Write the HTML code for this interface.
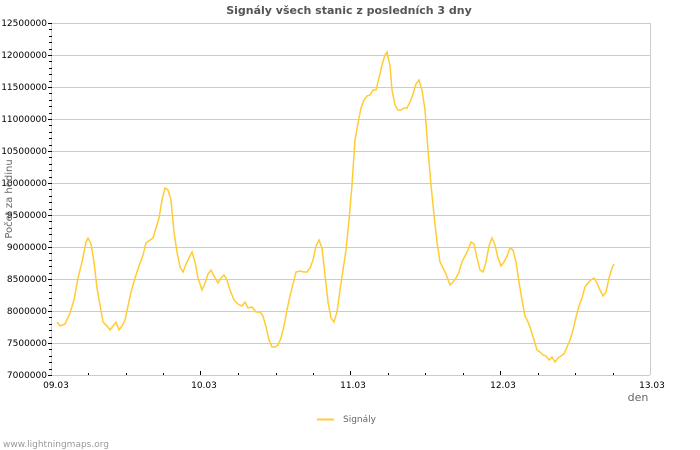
<!DOCTYPE html>
<html><head><meta charset="utf-8"><style>
body{margin:0;background:#fff;}
svg{display:block;font-family:"DejaVu Sans","Liberation Sans",sans-serif;}
</style></head><body>
<svg width="700" height="450" viewBox="0 0 700 450" xmlns="http://www.w3.org/2000/svg">
<rect width="700" height="450" fill="#fff"/>
<text x="349" y="14" text-anchor="middle" font-size="11" font-weight="bold" fill="#555">Signály všech stanic z posledních 3 dny</text>
<g stroke="#ccc" stroke-width="1">
<line x1="51" y1="23.5" x2="650" y2="23.5"/>
<line x1="51" y1="55.5" x2="650" y2="55.5"/>
<line x1="51" y1="87.5" x2="650" y2="87.5"/>
<line x1="51" y1="119.5" x2="650" y2="119.5"/>
<line x1="51" y1="151.5" x2="650" y2="151.5"/>
<line x1="51" y1="183.5" x2="650" y2="183.5"/>
<line x1="51" y1="215.5" x2="650" y2="215.5"/>
<line x1="51" y1="247.5" x2="650" y2="247.5"/>
<line x1="51" y1="279.5" x2="650" y2="279.5"/>
<line x1="51" y1="311.5" x2="650" y2="311.5"/>
<line x1="51" y1="343.5" x2="650" y2="343.5"/>
<line x1="51" y1="375.5" x2="650" y2="375.5"/>
<line x1="650.5" y1="23" x2="650.5" y2="375"/>
<line x1="51.5" y1="23" x2="51.5" y2="375"/>
</g>
<path stroke="#000" stroke-width="1" fill="none" d="
M48 23.5h4M49 29.5h3M49 36.5h3M49 42.5h3M49 49.5h3
M48 55.5h4M49 61.5h3M49 68.5h3M49 74.5h3M49 81.5h3
M48 87.5h4M49 93.5h3M49 100.5h3M49 106.5h3M49 113.5h3
M48 119.5h4M49 125.5h3M49 132.5h3M49 138.5h3M49 145.5h3
M48 151.5h4M49 157.5h3M49 164.5h3M49 170.5h3M49 177.5h3
M48 183.5h4M49 189.5h3M49 196.5h3M49 202.5h3M49 209.5h3
M48 215.5h4M49 221.5h3M49 228.5h3M49 234.5h3M49 241.5h3
M48 247.5h4M49 253.5h3M49 260.5h3M49 266.5h3M49 273.5h3
M48 279.5h4M49 285.5h3M49 292.5h3M49 298.5h3M49 305.5h3
M48 311.5h4M49 317.5h3M49 324.5h3M49 330.5h3M49 337.5h3
M48 343.5h4M49 349.5h3M49 356.5h3M49 362.5h3M49 369.5h3
M48 375.5h4
M88.5 373v2M126.5 373v2M163.5 373v2M200.5 371v4M238.5 373v2M276.5 373v2M313.5 373v2M350.5 371v4
M388.5 373v2M425.5 373v2M463.5 373v2M500.5 371v4M538.5 373v2M575.5 373v2M613.5 373v2"/>
<g font-size="9" fill="#000" text-anchor="end">
<text x="47" y="26">12500000</text><text x="47" y="58">12000000</text><text x="47" y="90">11500000</text><text x="47" y="122">11000000</text><text x="47" y="154">10500000</text><text x="47" y="186">10000000</text><text x="47" y="218">9500000</text><text x="47" y="250">9000000</text><text x="47" y="282">8500000</text><text x="47" y="314">8000000</text><text x="47" y="346">7500000</text><text x="47" y="378">7000000</text>
</g>
<g font-size="9" fill="#000" text-anchor="middle">
<text x="56" y="388">09.03</text><text x="204" y="388">10.03</text><text x="353" y="388">11.03</text><text x="503" y="388">12.03</text><text x="652" y="388">13.03</text>
</g>
<text x="638" y="401" text-anchor="middle" font-size="11" fill="#666">den</text>
<text x="0" y="0" transform="translate(12,199) rotate(-90)" text-anchor="middle" font-size="10" fill="#666">Počet za hodinu</text>
<polyline fill="none" stroke="#ffcc33" stroke-width="1.5" points="57,322 60,326 65,324 70,313 74,300 78,278 82,262 86,242 88,238 91,244 94,262 97,288 100,305 103,322 107,326 110,330 113,326 116,322 119,330 122,326 125,320 128,306 131,292 135,278 139,266 143,255 146,243 150,240 153,238 156,228 159,218 162,200 165,188 168,190 171,200 174,232 177,252 180,267 183,272 186,264 189,258 192,252 195,262 198,278 202,290 205,283 208,274 211,270 214,276 218,283 221,278 224,275 227,280 230,290 234,300 238,304 242,306 245,302 248,308 252,307 256,312 260,312 263,316 266,327 269,340 272,347 275,347 278,345 281,338 284,326 287,310 290,296 293,284 296,272 300,271 304,272 307,272 310,268 313,260 316,246 319,240 322,248 325,275 328,302 331,318 334,322 337,312 340,290 343,270 346,250 349,220 352,185 355,140 358,123 361,108 364,100 367,96 370,95 373,90 376,90 379,78 382,65 385,55 387,52 390,66 392,90 395,105 398,110 401,110 404,108 407,108 410,102 413,94 416,84 419,80 422,90 425,110 428,150 431,185 434,215 437,242 440,262 443,268 446,274 450,285 453,282 456,278 459,272 462,262 465,256 468,250 471,242 474,244 477,258 480,270 483,272 486,262 489,246 492,238 495,245 498,258 501,266 504,262 507,256 510,248 513,250 516,262 519,282 522,300 525,316 528,322 531,330 534,340 537,350 540,352 543,355 546,356 549,360 552,357 555,362 558,358 561,356 564,354 567,347 570,340 573,330 576,317 579,306 582,298 585,287 588,283 591,280 594,278 597,283 600,290 603,296 606,292 609,278 612,268 614,264"/>
<line x1="317" y1="419.5" x2="334" y2="419.5" stroke="#ffcc33" stroke-width="2"/>
<text x="343" y="422" font-size="9" fill="#666">Signály</text>
<text x="3" y="447" font-size="9" fill="#999">www.lightningmaps.org</text>
</svg>
</body></html>
